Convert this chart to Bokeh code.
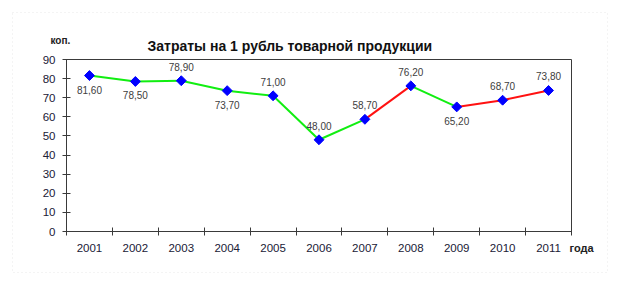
from bokeh.plotting import figure
from bokeh.models import (FixedTicker, Label, BoxAnnotation, ColumnDataSource, LabelSet,
                          Range1d, LinearAxis)
from bokeh.core.properties import value
from bokeh.embed import file_html
from bokeh.resources import INLINE

years = ["2001", "2002", "2003", "2004", "2005", "2006", "2007", "2008", "2009", "2010", "2011"]
values = [81.6, 78.5, 78.9, 73.7, 71.0, 48.0, 58.7, 76.2, 65.2, 68.7, 73.8]
value_labels = ["81,60", "78,50", "78,90", "73,70", "71,00", "48,00", "58,70", "76,20", "65,20", "68,70", "73,80"]
label_above = [False, False, True, False, True, True, True, True, False, True, True]
segment_colors = ["#11ee11", "#11ee11", "#11ee11", "#11ee11", "#11ee11", "#11ee11",
                  "#ff1111", "#11ee11", "#ff1111", "#ff1111"]
y_ticks = [0, 10, 20, 30, 40, 50, 60, 70, 80, 90]
y_min, y_max = 0, 90
title_text = "Затраты на 1 рубль товарной продукции"
y_unit = "коп."
x_unit = "года"

xs = list(range(1, len(years) + 1))
x_lo, x_hi = 0.5, len(years) + 0.5
FONT = "Liberation Sans"

W, H = 624, 292
# plot box in page pixels
BL, BR, BT, BB = 66, 571, 59, 231
sx = (BR - BL) / (x_hi - x_lo)
sy = (BB - BT) / (y_max - y_min)
x_start = x_lo - BL / sx
x_end = x_start + W / sx
y_start = y_min - (H - BB) / sy
y_end = y_start + H / sy

p = figure(width=W, height=H, output_backend="svg", toolbar_location=None,
           x_range=Range1d(x_start, x_end), y_range=Range1d(y_start, y_end),
           x_axis_location=None, y_axis_location=None,
           min_border=0)
p.outline_line_color = None
p.grid.visible = False
p.background_fill_color = "white"
p.border_fill_color = "white"

AX = "#3a3a3a"
# left axis
yax = LinearAxis(fixed_location=x_lo, bounds=(y_min, y_max),
                 ticker=FixedTicker(ticks=y_ticks))
yax.major_tick_in = 4
yax.major_tick_out = 4
yax.minor_tick_line_color = None
yax.axis_line_color = AX
yax.major_tick_line_color = AX
yax.major_label_text_font = FONT
yax.major_label_text_font_size = "11.5px"
yax.major_label_text_color = "#202036"
yax.major_label_standoff = 7
p.add_layout(yax, "left")

# bottom axis: labels at category centres, ticks between categories
xax = LinearAxis(fixed_location=y_min, bounds=(x_lo, x_hi),
                 ticker=FixedTicker(ticks=xs, minor_ticks=[x - 0.5 for x in xs] + [x_hi]))
xax.major_label_overrides = {x: y for x, y in zip(xs, years)}
xax.major_tick_line_color = None
xax.minor_tick_in = 4
xax.minor_tick_out = 4
xax.minor_tick_line_color = AX
xax.axis_line_color = AX
xax.major_label_text_font = FONT
xax.major_label_text_font_size = "11.5px"
xax.major_label_text_color = "#202036"
xax.major_label_standoff = 6
p.add_layout(xax, "below")

# right and top borders of the plot box
rax = LinearAxis(fixed_location=x_hi, bounds=(y_min, y_max), ticker=FixedTicker(ticks=[]))
rax.axis_line_color = AX
rax.major_label_text_font_size = "0px"
p.add_layout(rax, "right")
tax = LinearAxis(fixed_location=y_max, bounds=(x_lo, x_hi), ticker=FixedTicker(ticks=[]))
tax.axis_line_color = AX
tax.major_label_text_font_size = "0px"
p.add_layout(tax, "above")

# line segments
p.segment(x0=xs[:-1], y0=values[:-1], x1=xs[1:], y1=values[1:],
          line_color=segment_colors, line_width=2)
p.scatter(xs, values, marker="square", angle=0.785398, size=7,
          fill_color="#0000ff", line_color="#0000ff", line_width=1)

src = ColumnDataSource(dict(x=xs, y=values, t=value_labels,
                            off=[14 if a else -14 for a in label_above]))
p.add_layout(LabelSet(x="x", y="y", text="t", y_offset="off", source=src,
                      text_align="center", text_baseline="middle",
                      text_font=value(FONT), text_font_size="10px", text_color="#404040"))

# texts outside the plot box (page pixel positions via screen units; frame == page)
p.add_layout(Label(x=147, y=H - 45, x_units="screen", y_units="screen",
                   text=title_text, text_font=FONT, text_font_size="14px",
                   text_font_style="bold", text_baseline="alphabetic", text_color="#111111"))
p.add_layout(Label(x=50, y=H - 40, x_units="screen", y_units="screen", text=y_unit,
                   text_font=FONT, text_font_size="10px", text_font_style="bold",
                   text_baseline="middle", text_color="#222222"))
p.add_layout(Label(x=569, y=H - 247, x_units="screen", y_units="screen", text=x_unit,
                   text_font=FONT, text_font_size="11px", text_font_style="bold",
                   text_baseline="middle", text_color="#222222"))

p.add_layout(BoxAnnotation(left=12, right=607, bottom=H - 272, top=H - 12,
                           left_units="screen", right_units="screen",
                           bottom_units="screen", top_units="screen",
                           fill_color=None, line_color="#b4b4b4", line_dash="1 3", line_width=1))

open("out.html", "w").write(file_html(p, INLINE))
